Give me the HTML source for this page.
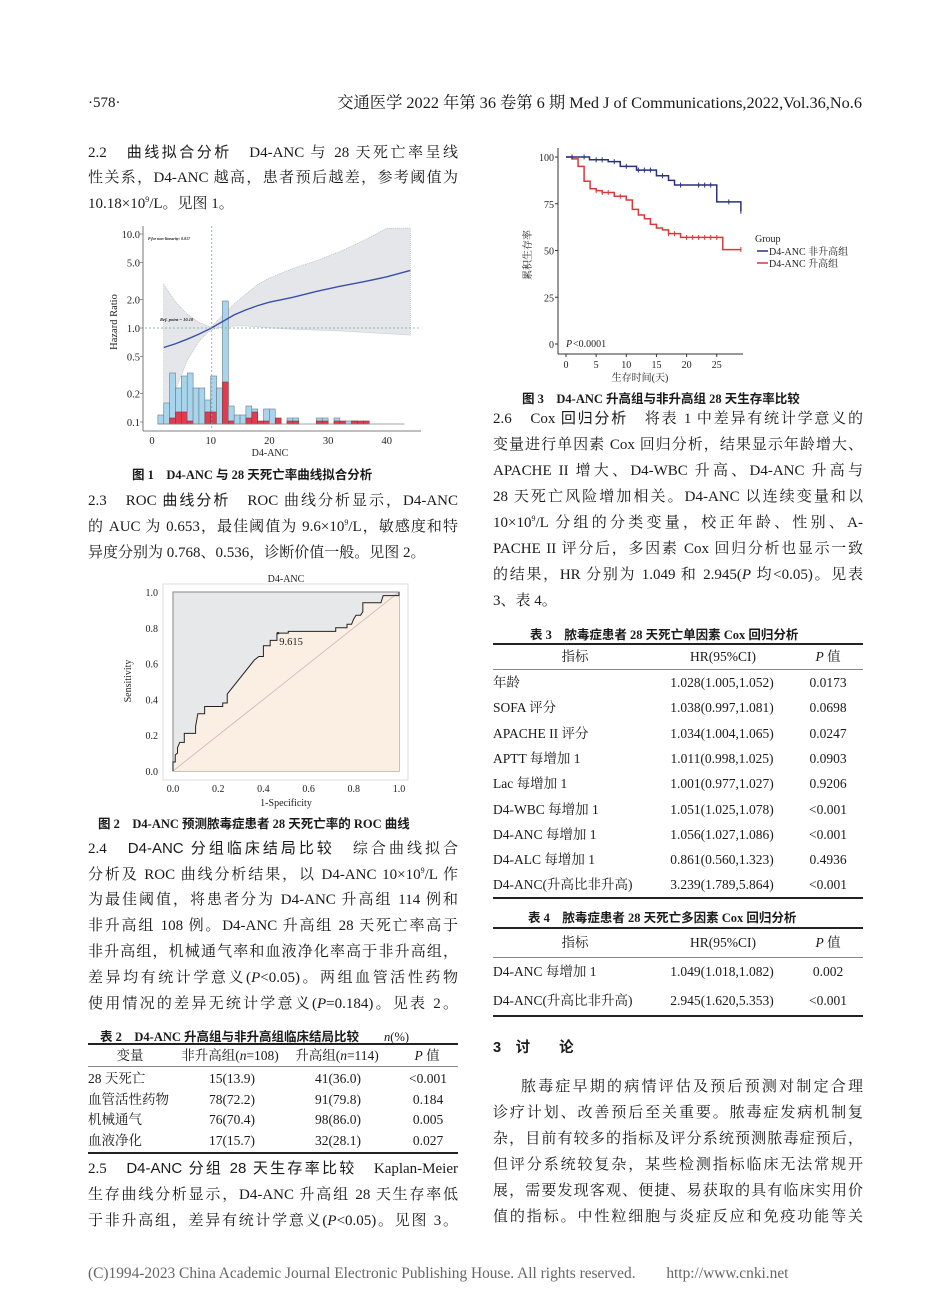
<!DOCTYPE html>
<html><head><meta charset="utf-8">
<style>
body{margin:0;background:#fff;}
#page{position:relative;width:950px;height:1312px;overflow:hidden;background:#fff;font-family:"Liberation Serif","Noto Serif CJK SC",serif;color:#1a1a1a;}
.ln{position:absolute;width:370px;font-size:15px;line-height:20px;white-space:nowrap;text-align:justify;text-align-last:justify;}
.ll{left:88px}.rl{left:493px}
.nj{text-align-last:left}
.hd{font-family:"Liberation Sans","Noto Sans CJK SC",sans-serif;}
.cap{position:absolute;font-size:12.5px;white-space:nowrap;font-family:"Liberation Serif","Noto Sans CJK SC",sans-serif;font-weight:bold;}
.t{position:absolute;font-size:13.5px;white-space:nowrap;line-height:16px;}
.c{transform:translateX(-50%);}
.hr{position:absolute;border-top:1px solid #222;}
.thick{border-top:2px solid #222;}
.thin{border-top:1px solid #888;}
sup{font-size:8px;vertical-align:6px;line-height:0}
i{font-style:italic}
svg text{font-family:"Liberation Serif","Noto Serif CJK SC",serif;}
</style></head><body>
<div id="page">
<div class="t" style="left:88px;top:95px;font-size:15px">·578·</div>
<div class="t" style="right:88px;top:95px;font-size:16.3px">交通医学 2022 年第 36 卷第 6 期 Med J of Communications,2022,Vol.36,No.6</div>

<div class="ln ll" style="top:143px">2.2　<span class="hd">曲线拟合分析</span>　D4-ANC 与 28 天死亡率呈线</div>
<div class="ln ll" style="top:168px">性关系，D4-ANC 越高，患者预后越差，参考阈值为</div>
<div class="ln ll nj" style="top:194px">10.18×10<sup>9</sup>/L。见图 1。</div>

<div class="cap" style="left:132px;top:464px">图 1　D4-ANC 与 28 天死亡率曲线拟合分析</div>

<div class="ln ll" style="top:491px">2.3　ROC <span class="hd">曲线分析</span>　ROC 曲线分析显示，D4-ANC</div>
<div class="ln ll" style="top:517px">的 AUC 为 0.653，最佳阈值为 9.6×10<sup>9</sup>/L，敏感度和特</div>
<div class="ln ll nj" style="top:543px">异度分别为 0.768、0.536，诊断价值一般。见图 2。</div>

<div class="cap" style="left:98px;top:813px">图 2　D4-ANC 预测脓毒症患者 28 天死亡率的 ROC 曲线</div>

<div class="ln ll" style="top:839px">2.4　<span class="hd">D4-ANC 分组临床结局比较</span>　综合曲线拟合</div>
<div class="ln ll" style="top:865px">分析及 ROC 曲线分析结果，以 D4-ANC 10×10<sup>9</sup>/L 作</div>
<div class="ln ll" style="top:890px">为最佳阈值，将患者分为 D4-ANC 升高组 114 例和</div>
<div class="ln ll" style="top:916px">非升高组 108 例。D4-ANC 升高组 28 天死亡率高于</div>
<div class="ln ll" style="top:942px">非升高组，机械通气率和血液净化率高于非升高组，</div>
<div class="ln ll" style="top:968px">差异均有统计学意义(<i>P</i>&lt;0.05)。两组血管活性药物</div>
<div class="ln ll" style="top:994px">使用情况的差异无统计学意义(<i>P</i>=0.184)。见表 2。</div>

<div class="cap" style="left:100px;top:1026px">表 2　D4-ANC 升高组与非升高组临床结局比较　　<span style="font-weight:normal"><i>n</i>(%)</span></div>
<div class="hr thick" style="left:88px;width:370px;top:1043px"></div>
<div class="t c" style="left:130px;top:1048px">变量</div>
<div class="t c" style="left:230px;top:1048px">非升高组(<i>n</i>=108)</div>
<div class="t c" style="left:337px;top:1048px">升高组(<i>n</i>=114)</div>
<div class="t c" style="left:427px;top:1048px"><i>P</i> 值</div>
<div class="hr thin" style="left:88px;width:370px;top:1066px"></div>
<div class="hr thick" style="left:88px;width:370px;top:1152px"></div>

<div class="ln ll" style="top:1159px">2.5　<span class="hd">D4-ANC 分组 28 天生存率比较</span>　Kaplan-Meier</div>
<div class="ln ll" style="top:1185px">生存曲线分析显示，D4-ANC 升高组 28 天生存率低</div>
<div class="ln ll" style="top:1211px">于非升高组，差异有统计学意义(<i>P</i>&lt;0.05)。见图 3。</div>

<div class="cap" style="left:522px;top:388px">图 3　D4-ANC 升高组与非升高组 28 天生存率比较</div>

<div class="ln rl" style="top:409px">2.6　Cox <span class="hd">回归分析</span>　将表 1 中差异有统计学意义的</div>
<div class="ln rl" style="top:435px">变量进行单因素 Cox 回归分析，结果显示年龄增大、</div>
<div class="ln rl" style="top:461px">APACHE II 增大、D4-WBC 升高、D4-ANC 升高与</div>
<div class="ln rl" style="top:487px">28 天死亡风险增加相关。D4-ANC 以连续变量和以</div>
<div class="ln rl" style="top:513px">10×10<sup>9</sup>/L 分组的分类变量，校正年龄、性别、A-</div>
<div class="ln rl" style="top:539px">PACHE II 评分后，多因素 Cox 回归分析也显示一致</div>
<div class="ln rl" style="top:565px">的结果，HR 分别为 1.049 和 2.945(<i>P</i> 均&lt;0.05)。见表</div>
<div class="ln rl nj" style="top:591px">3、表 4。</div>

<div class="cap" style="left:530px;top:624px">表 3　脓毒症患者 28 天死亡单因素 Cox 回归分析</div>
<div class="hr thick" style="left:493px;width:370px;top:643px"></div>
<div class="t c" style="left:575px;top:649px">指标</div>
<div class="t c" style="left:723px;top:649px">HR(95%CI)</div>
<div class="t c" style="left:828px;top:649px"><i>P</i> 值</div>
<div class="hr thin" style="left:493px;width:370px;top:669px"></div>
<div class="hr thick" style="left:493px;width:370px;top:897px"></div>

<div class="cap" style="left:528px;top:907px">表 4　脓毒症患者 28 天死亡多因素 Cox 回归分析</div>
<div class="hr thick" style="left:493px;width:370px;top:927px"></div>
<div class="t c" style="left:575px;top:935px">指标</div>
<div class="t c" style="left:723px;top:935px">HR(95%CI)</div>
<div class="t c" style="left:828px;top:935px"><i>P</i> 值</div>
<div class="hr thin" style="left:493px;width:370px;top:957px"></div>
<div class="hr thick" style="left:493px;width:370px;top:1015px"></div>

<div class="t" style="left:493px;top:1040px;font-size:14.5px;font-weight:bold;font-family:'Liberation Sans','Noto Sans CJK SC',sans-serif">3　讨　　论</div>
<div class="ln rl" style="top:1077px;left:521px;width:342px">脓毒症早期的病情评估及预后预测对制定合理</div>
<div class="ln rl" style="top:1103px">诊疗计划、改善预后至关重要。脓毒症发病机制复</div>
<div class="ln rl" style="top:1129px">杂，目前有较多的指标及评分系统预测脓毒症预后，</div>
<div class="ln rl" style="top:1155px">但评分系统较复杂，某些检测指标临床无法常规开</div>
<div class="ln rl" style="top:1181px">展，需要发现客观、便捷、易获取的具有临床实用价</div>
<div class="ln rl" style="top:1207px">值的指标。中性粒细胞与炎症反应和免疫功能等关</div>

<div class="t" style="left:88px;top:1266px;font-size:15.4px;color:#666">(C)1994-2023 China Academic Journal Electronic Publishing House. All rights reserved.　　http://www.cnki.net</div>

<svg id="charts" width="950" height="1312" style="position:absolute;left:0;top:0"></svg>
</div>
<script>
// ---- Figure 1 data ----
const histBins=[1,2,3,4,5,6,7,8,9,10,11,12,13,14,15,16,17,18,19,20,21,22,23,24,25,26,27,28,29,30,31,32,33,34,35,36];
const histBlue=[3,7,17,12,16,17,12,12,8,16,12,41,6,3,3,6,5,0,5,5,0,0,2,2,0,0,0,2,2,0,2,0,1,1,0,0];
const histRed=[0,0,2,4,4,1,0,0,4,4,0,14,1,0,0,2,4,1,1,0,2,0,1,1,0,0,0,1,1,0,1,1,0,1,1,1];
const splineX=[2,4,6,8,10,12,14,16,18,20,24,28,32,36,40,44];
const splineHR=[0.62,0.68,0.76,0.86,0.99,1.17,1.38,1.56,1.73,1.88,2.12,2.45,2.78,3.1,3.5,4.1];
const upperHR=[2.9,1.9,1.4,1.15,1.02,1.35,1.8,2.3,2.9,3.4,4.3,5.2,6.5,8.5,11.5,14];
const lowerHR=[0.1,0.22,0.45,0.72,0.96,1.02,1.05,1.05,1.03,1.0,0.97,0.95,0.93,0.9,0.87,0.84];
const hrTicks=[10,5,2,1,0.5,0.2,0.1];
const hrTickLabels=["10.0","5.0","2.0","1.0","0.5","0.2","0.1"];
const ancTicks=[0,10,20,30,40];
const refPoint=10.18;
// ---- Figure 2 data ----
const rocFPR=[0,0,0.01,0.01,0.02,0.02,0.03,0.05,0.05,0.1,0.1,0.11,0.14,0.14,0.22,0.22,0.24,0.24,0.36,0.38,0.4,0.4,0.43,0.43,0.46,0.46,0.51,0.51,0.72,0.72,0.77,0.77,0.79,0.8,0.81,0.83,0.84,0.84,0.92,0.93,1,1];
const rocTPR=[0,0.05,0.05,0.09,0.1,0.13,0.16,0.16,0.21,0.21,0.25,0.32,0.32,0.36,0.36,0.38,0.38,0.43,0.62,0.64,0.64,0.7,0.7,0.73,0.73,0.77,0.77,0.78,0.78,0.8,0.8,0.82,0.82,0.85,0.87,0.87,0.89,0.94,0.94,0.98,0.98,1];
const rocTicks=[0,0.2,0.4,0.6,0.8,1.0];
const rocTickLabels=["0.0","0.2","0.4","0.6","0.8","1.0"];
// ---- Figure 3 data ----
const kmBlueT=[0,3.9,7,9,11.7,15,17,18,25,29,29];
const kmBlueS=[100,98.5,97.5,95,93,90,87.5,85,76,71,71];
const kmRedT=[0,1,2,3,4,5,6,8,10,11,12,13,14,15,16,17,19,26,29];
const kmRedS=[100,99,95,87,83,82,81,79,77,72,69,67,64,62,61,59,57,50.5,50.5];
const kmBlueCens=[1,3,5,6,8,10,12,13,14,16,19,22,23,24,27,29];
const kmRedCens=[5,6,7,9,17,18,20,21,22,23,24,25,29];
const kmYTicks=[0,25,50,75,100];
const kmXTicks=[0,5,10,15,20,25];
// ---- Tables ----
const t2Vars=["28 天死亡","血管活性药物","机械通气","血液净化"];
const t2Non=["15(13.9)","78(72.2)","76(70.4)","17(15.7)"];
const t2Up=["41(36.0)","91(79.8)","98(86.0)","32(28.1)"];
const t2P=["<0.001","0.184","0.005","0.027"];
const t3Vars=["年龄","SOFA 评分","APACHE II 评分","APTT 每增加 1","Lac 每增加 1","D4-WBC 每增加 1","D4-ANC 每增加 1","D4-ALC 每增加 1","D4-ANC(升高比非升高)"];
const t3HR=["1.028(1.005,1.052)","1.038(0.997,1.081)","1.034(1.004,1.065)","1.011(0.998,1.025)","1.001(0.977,1.027)","1.051(1.025,1.078)","1.056(1.027,1.086)","0.861(0.560,1.323)","3.239(1.789,5.864)"];
const t3P=["0.0173","0.0698","0.0247","0.0903","0.9206","<0.001","<0.001","0.4936","<0.001"];
const t4Vars=["D4-ANC 每增加 1","D4-ANC(升高比非升高)"];
const t4HR=["1.049(1.018,1.082)","2.945(1.620,5.353)"];
const t4P=["0.002","<0.001"];

const NS="http://www.w3.org/2000/svg";
const svg=document.getElementById('charts');
function mk(tag,attrs,parent){const e=document.createElementNS(NS,tag);for(const k in attrs)e.setAttribute(k,attrs[k]);(parent||svg).appendChild(e);return e;}
function txt(s,x,y,attrs,parent){const e=mk('text',Object.assign({x:x,y:y,'font-size':11,fill:'#222'},attrs||{}),parent);e.textContent=s;return e;}

// Figure 1
const f1=mk('g',{});


const xs=v=>152+v*5.87;
const ys=h=>328-94*Math.log10(h);
const yb=c=>424-c*3;
const clipY=y=>Math.max(228,y);
let band="";
splineX.forEach((x,i)=>{band+=(i?"L":"M")+xs(x)+","+clipY(ys(upperHR[i]));});
for(let i=splineX.length-1;i>=0;i--)band+="L"+xs(splineX[i])+","+clipY(ys(lowerHR[i]));
const bandEl=mk('path',{d:band+"Z",fill:'#e4e6e9',stroke:'#aab',"stroke-width":0.6,"stroke-dasharray":"1,1"},f1);


histBins.forEach((b,i)=>{
 if(histBlue[i]>0){const r=mk('rect',{x:xs(b),y:yb(histBlue[i]),width:5.87,height:histBlue[i]*3,fill:'#a9d5ec',stroke:'#6a7a88','stroke-width':0.6},f1);
 
 }
 if(histRed[i]>0){const r=mk('rect',{x:xs(b),y:yb(histRed[i]),width:5.87,height:histRed[i]*3,fill:'#e23a4e',stroke:'#7a3a40','stroke-width':0.6},f1);
 
 }
});
mk('line',{x1:xs(1),x2:xs(43),y1:424,y2:424,stroke:'#888','stroke-width':0.8},f1);
let sp="";splineX.forEach((x,i)=>{sp+=(i?"L":"M")+xs(x)+","+ys(splineHR[i]);});
const spl=mk('path',{d:sp,fill:'none',stroke:'#3a4fa8','stroke-width':1.4},f1);


mk('line',{x1:xs(refPoint),x2:xs(refPoint),y1:226,y2:430,stroke:'#6aaaa4','stroke-width':0.8,'stroke-dasharray':'2,2'},f1);
mk('line',{x1:145,x2:421,y1:ys(1),y2:ys(1),stroke:'#6aaaa4','stroke-width':0.8,'stroke-dasharray':'2,2'},f1);
mk('line',{x1:143,x2:143,y1:226,y2:431,stroke:'#555','stroke-width':0.8},f1);
mk('line',{x1:143,x2:421,y1:431,y2:431,stroke:'#555','stroke-width':0.8},f1);
hrTicks.forEach((h,i)=>{txt(hrTickLabels[i],140,ys(h)+4,{'text-anchor':'end','font-size':10.5},f1);mk('line',{x1:140,x2:143,y1:ys(h),y2:ys(h),stroke:'#555','stroke-width':0.6},f1);});
ancTicks.forEach(v=>{txt(String(v),xs(v),444,{'text-anchor':'middle','font-size':10.5},f1);});
txt("D4-ANC",270,456,{'text-anchor':'middle','font-size':10},f1);
txt("Hazard Ratio",117,322,{'text-anchor':'middle','font-size':10.5,transform:'rotate(-90 117 322)'},f1);
txt("P for non-linearity: 0.817",148,240,{'font-size':4,'font-style':'italic','font-weight':'bold'},f1);
txt("Ref. point = 10.18",160,321,{'font-size':4.5,'font-style':'italic','font-weight':'bold'},f1);

// Figure 2
const f2=mk('g',{});


const xr=v=>173+v*226, yr=v=>771-v*179;
mk('rect',{x:163,y:584,width:245,height:196,fill:'none',stroke:'#ddd','stroke-width':1},f2);
mk('rect',{x:173,y:592,width:226,height:179,fill:'#e6e8ea',stroke:'#999','stroke-width':1.2},f2);
let below="M"+xr(0)+","+yr(0);
rocFPR.forEach((f,i)=>{below+="L"+xr(f)+","+yr(rocTPR[i]);});
below+="L"+xr(1)+","+yr(0)+"Z";
mk('path',{d:below,fill:'#fbeee3'},f2);
mk('line',{x1:xr(0),y1:yr(0),x2:xr(1),y2:yr(1),stroke:'#c9b8b8','stroke-width':0.8},f2);
let roc="";rocFPR.forEach((f,i)=>{roc+=(i?"L":"M")+xr(f)+","+yr(rocTPR[i]);});
const rocEl=mk('path',{d:roc,fill:'none',stroke:'#222','stroke-width':1},f2);


mk('circle',{cx:xr(0.465),cy:yr(0.77),r:1.2,fill:'#222'},f2);
txt("9.615",xr(0.47),yr(0.77)+12,{'font-size':10.5},f2);
rocTicks.forEach((v,i)=>{txt(rocTickLabels[i],158,yr(v)+4,{'text-anchor':'end','font-size':10},f2);txt(rocTickLabels[i],xr(v),792,{'text-anchor':'middle','font-size':10},f2);});
txt("D4-ANC",286,582,{'text-anchor':'middle','font-size':10},f2);
txt("1-Specificity",286,806,{'text-anchor':'middle','font-size':10},f2);
txt("Sensitivity",131,681,{'text-anchor':'middle','font-size':10,transform:'rotate(-90 131 681)'},f2);

// Figure 3
const f3=mk('g',{});


const xk=t=>566+t*6.03, yk=s=>344-s*1.87;
mk('line',{x1:558,x2:558,y1:148,y2:354,stroke:'#333','stroke-width':1},f3);
mk('line',{x1:558,x2:743,y1:354,y2:354,stroke:'#333','stroke-width':1},f3);
kmYTicks.forEach(v=>{txt(String(v),554,yk(v)+4,{'text-anchor':'end','font-size':10},f3);mk('line',{x1:555,x2:558,y1:yk(v),y2:yk(v),stroke:'#333'},f3);});
kmXTicks.forEach(v=>{txt(String(v),xk(v),368,{'text-anchor':'middle','font-size':10},f3);mk('line',{x1:xk(v),x2:xk(v),y1:354,y2:357,stroke:'#333'},f3);});
function stepPath(T,S){let d="M"+xk(T[0])+","+yk(S[0]);for(let i=1;i<T.length;i++){d+="L"+xk(T[i])+","+yk(S[i-1])+"L"+xk(T[i])+","+yk(S[i]);}return d;}
function survAt(T,S,t){let s=S[0];for(let i=0;i<T.length;i++){if(T[i]<=t)s=S[i];}return s;}
const redP=mk('path',{d:stepPath(kmRedT,kmRedS),fill:'none',stroke:'#d8393a','stroke-width':1.5},f3);


const blueP=mk('path',{d:stepPath(kmBlueT,kmBlueS),fill:'none',stroke:'#28307a','stroke-width':1.5},f3);


kmBlueCens.forEach(t=>{const y=yk(survAt(kmBlueT,kmBlueS,t));mk('line',{x1:xk(t),x2:xk(t),y1:y-2.5,y2:y+2.5,stroke:'#28307a'},f3);});
kmRedCens.forEach(t=>{const y=yk(survAt(kmRedT,kmRedS,t));mk('line',{x1:xk(t),x2:xk(t),y1:y-2.5,y2:y+2.5,stroke:'#d8393a'},f3);});
txt("P",566,347,{'font-size':10,'font-style':'italic'},f3);
txt("<0.0001",573,347,{'font-size':10},f3);
txt("生存时间(天)",640,381,{'text-anchor':'middle','font-size':10},f3);
txt("累积生存率",531,255,{'text-anchor':'middle','font-size':10,transform:'rotate(-90 531 255)'},f3);
txt("Group",755,242,{'font-size':10},f3);
mk('line',{x1:757,x2:768,y1:251,y2:251,stroke:'#28307a','stroke-width':1.5},f3);
txt("D4-ANC 非升高组",769,255,{'font-size':10},f3);
mk('line',{x1:757,x2:768,y1:263,y2:263,stroke:'#d8393a','stroke-width':1.5},f3);
txt("D4-ANC 升高组",769,267,{'font-size':10},f3);

// Tables
function cell(parent,text,left,top,center,name){const d=document.createElement('div');d.className='t'+(center?' c':'');d.style.left=left+'px';d.style.top=top+'px';d.textContent=text;


parent.appendChild(d);}
const pg=document.getElementById('page');
t2Vars.forEach((v,i)=>{const y=1071+i*20.7;
 cell(pg,v,88,y,false,'t2-cell-var');cell(pg,t2Non[i],232,y,true,'t2-cell-non');cell(pg,t2Up[i],338,y,true,'t2-cell-up');cell(pg,t2P[i],428,y,true,'t2-cell-p');});
t3Vars.forEach((v,i)=>{const y=675+i*25.3;
 cell(pg,v,493,y,false,'t3-cell-var');cell(pg,t3HR[i],722,y,true,'t3-cell-hr');cell(pg,t3P[i],828,y,true,'t3-cell-p');});
t4Vars.forEach((v,i)=>{const y=964+i*28.5;
 cell(pg,v,493,y,false,'t4-cell-var');cell(pg,t4HR[i],722,y,true,'t4-cell-hr');cell(pg,t4P[i],828,y,true,'t4-cell-p');});
</script>
</body></html>
